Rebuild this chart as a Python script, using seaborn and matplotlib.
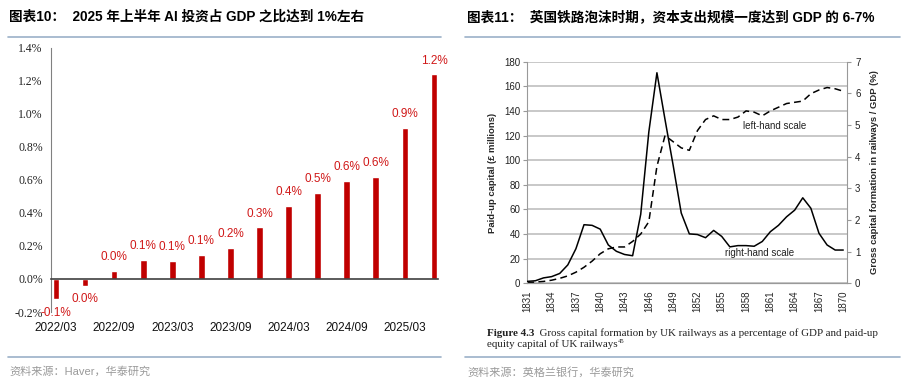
import matplotlib
matplotlib.use("Agg")
import matplotlib.pyplot as plt
from matplotlib.lines import Line2D
import numpy as np
import pandas as pd
import seaborn as sns

# left panel: AI investment as share of GDP (%)
quarters = ["2022/03", "2022/06", "2022/09", "2022/12", "2023/03", "2023/06", "2023/09",
            "2023/12", "2024/03", "2024/06", "2024/09", "2024/12", "2025/03", "2025/06"]
ai_share = [-0.12, -0.04, 0.048, 0.114, 0.107, 0.144, 0.19,
            0.312, 0.444, 0.52, 0.594, 0.616, 0.912, 1.238]

# right panel: UK railway mania
years = list(range(1831, 1871))
paid_up_capital = [0.5, 1, 1.5, 2.5, 4, 6, 9, 13, 18, 24,
                   28, 29.5, 29.5, 34, 40, 50, 95, 120, 115, 110,
                   108, 124, 133, 136, 133, 133, 135, 140, 139, 136,
                   140, 143, 146, 147, 148, 154, 157, 159, 158, 156]
capex_gdp = [0.06, 0.08, 0.17, 0.21, 0.31, 0.58, 1.09, 1.85, 1.83, 1.71,
             1.21, 1.01, 0.91, 0.87, 2.18, 4.78, 6.65, 5.17, 3.73, 2.22,
             1.56, 1.54, 1.44, 1.67, 1.48, 1.15, 1.19, 1.19, 1.17, 1.32,
             1.63, 1.83, 2.10, 2.31, 2.70, 2.37, 1.58, 1.21, 1.05, 1.05]

sns.set_style("white")
plt.rcParams["font.family"] = ["Liberation Sans", "Noto Sans CJK SC", "DejaVu Sans"]

RED = "#C00000"
SEP = "#9BB0C8"

fig = plt.figure(figsize=(9.11, 3.85), dpi=100)
fig.patch.set_facecolor("white")

# ---------------- left chart ----------------
ax1 = fig.add_axes([0.0560, 0.1896, 0.4248, 0.6865])
df = pd.DataFrame({"quarter": quarters, "share": ai_share})
sns.barplot(df, x="quarter", y="share", color=RED, saturation=1, width=0.23, ax=ax1)
ax1.set_xlim(-0.17, 13.14)
ax1.set_ylim(-0.2, 1.4)
yt = np.arange(-0.2, 1.41, 0.2)
ax1.set_yticks(yt)
ax1.set_yticklabels([f"{t:.1f}%" for t in yt], family="Liberation Serif", fontsize=8.5, color="#222222")
ax1.tick_params(axis="y", direction="out", length=4, color="#808080", pad=2)
ax1.spines["left"].set_color("#808080")
ax1.spines["top"].set_visible(False)
ax1.spines["right"].set_visible(False)
ax1.spines["bottom"].set_position(("data", 0))
ax1.spines["bottom"].set_color("#404040")
ax1.spines["bottom"].set_linewidth(1.2)
ax1.set_xticks(range(0, 14, 2))
ax1.set_xticklabels(quarters[::2], fontsize=8.5, color="#111111")
ax1.tick_params(axis="x", which="major", length=0, pad=31)
ax1.set_xticks(np.arange(0, 14, 2) - 0.17, minor=True)
ax1.tick_params(axis="x", which="minor", length=4, direction="out", color="#404040", width=1)
ax1.set_xlabel("")
ax1.set_ylabel("")
for i, v in enumerate(ai_share):
    s = f"{v:.1f}"
    if s == "-0.0":
        s = "0.0"
    ax1.annotate(s + "%", (i, v), xytext=(0, 10 if v >= 0 else -10), textcoords="offset points",
                 ha="center", va="center", fontsize=8.5, color="#D01818")

# ---------------- right chart ----------------
ax2 = fig.add_axes([0.5788, 0.2642, 0.3506, 0.5756])
sns.lineplot(x=years, y=paid_up_capital, ax=ax2, color="black", lw=1.1, linestyle=(0, (4.5, 2.8)))
ax3 = ax2.twinx()
sns.lineplot(x=years, y=capex_gdp, ax=ax3, color="black", lw=1.1)
ax2.set_xlim(1831, 1870.42)
ax2.set_ylim(0, 180)
ax3.set_ylim(0, 7)
ax2.set_yticks(range(0, 181, 20))
ax3.set_yticks(range(0, 8))
ax2.grid(axis="y", color="#c8c8c8", lw=1.4)
ax2.grid(axis="x", visible=False)
ax3.grid(False)
ax2.set_axisbelow(True)
ax2.set_xticks(range(1831, 1871, 3))
ax2.tick_params(axis="x", labelrotation=90, labelsize=7, length=3, direction="out", color="#999999", pad=2)
ax2.tick_params(axis="y", labelsize=7, length=3, direction="out", color="#999999", pad=2, labelcolor="#222222")
ax3.tick_params(axis="y", labelsize=7, length=3, direction="out", color="#999999", pad=3, labelcolor="#222222")
for a in (ax2, ax3):
    a.spines["top"].set_visible(False)
    for sp in ("left", "right", "bottom"):
        a.spines[sp].set_color("#999999")
ax2.spines["right"].set_visible(False)
ax3.spines["left"].set_visible(False)
ax2.set_xlabel("")
ax2.set_ylabel("Paid-up capital (£ millions)", fontsize=6.8, fontweight="bold", labelpad=5)
ax3.set_ylabel("Gross capital formation in railways / GDP (%)", fontsize=6.8, fontweight="bold", labelpad=7)
ax2.text(1861.5, 128, "left-hand scale", fontsize=7, ha="center", va="center", color="#222222")
ax2.text(1859.7, 24.6, "right-hand scale", fontsize=7, ha="center", va="center", color="#222222")

# caption from the scanned book figure
serif = dict(family="Liberation Serif", color="#222222")
cap1 = fig.text(0.5346, 0.135, "Figure 4.3", fontweight="bold", fontsize=7.9, va="center", **serif)
ax2.annotate("  Gross capital formation by UK railways as a percentage of GDP and paid-up",
             xy=(1, 0), xycoords=cap1, va="bottom", fontsize=7.9, annotation_clip=False, **serif)
cap2 = fig.text(0.5346, 0.1065, "equity capital of UK railways", fontsize=7.9, va="center", **serif)
ax2.annotate("45", xy=(1, 1), xycoords=cap2, va="top", fontsize=4.8, annotation_clip=False, **serif)

# ---------------- titles, separators, sources ----------------
fig.text(0.0099, 0.9558, "图表10：  2025 年上半年 AI 投资占 GDP 之比达到 1%左右",
         fontsize=9.8, fontweight="bold", va="center", color="black")
fig.text(0.5126, 0.9558, "图表11：  英国铁路泡沫时期，资本支出规模一度达到 GDP 的 6-7%",
         fontsize=9.8, fontweight="bold", va="center", color="black")
for x0, x1 in ((0.0088, 0.4841), (0.5104, 0.9879)):
    fig.add_artist(Line2D([x0, x1], [0.9039, 0.9039], color=SEP, lw=1.2, transform=fig.transFigure))
    fig.add_artist(Line2D([x0, x1], [0.0727, 0.0727], color=SEP, lw=1.2, transform=fig.transFigure))
fig.text(0.0099, 0.034, "资料来源：Haver，华泰研究", fontsize=8, va="center", color="#9a9a9a")
fig.text(0.5126, 0.034, "资料来源：英格兰银行，华泰研究", fontsize=8, va="center", color="#9a9a9a")

fig.savefig("out.png", dpi=100, facecolor="white")
